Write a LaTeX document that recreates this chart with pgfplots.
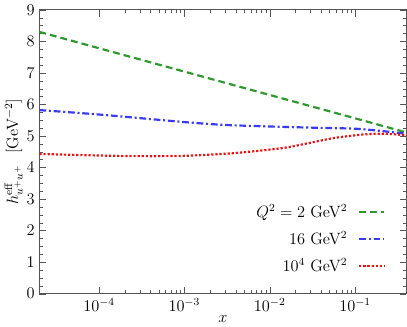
\documentclass[border=0pt]{standalone}
\usepackage{pgfplots}
\pgfplotsset{compat=1.18}
\definecolor{qgreen}{HTML}{2E9A2E}
\definecolor{qblue}{HTML}{3A3AF5}
\definecolor{qred}{HTML}{F01010}
\definecolor{frame}{HTML}{555555}
\begin{document}
\begin{tikzpicture}
\begin{semilogxaxis}[
  scale only axis,
  width=269pt,
  height=208pt,
  xmin=2e-5, xmax=0.4,
  ymin=0, ymax=9,
  ytick={0,1,...,9},
  minor y tick num=3,
  xtick={1e-4,1e-3,1e-2,1e-1},
  tick align=inside,
  axis line style={frame, line width=0.8pt},
  tick style={frame},
  major tick length=5pt,
  minor tick length=2.5pt,
  tick label style={font=\large},
  label style={font=\large},
  xlabel={$x$},
  ylabel={$h^{\rm eff}_{u^+u^+}$ \ [GeV$^{-2}$]},
  xlabel style={yshift=4pt},
  ylabel style={yshift=-4pt},
  legend plot pos=right,
  legend cell align=right,
  legend style={draw=none, fill=none, font=\large, at={(0.955,0.05)}, anchor=south east,
    row sep=5pt},
  legend image code/.code={\path (0cm,0cm); \draw[#1] plot coordinates {(0.21cm,0cm) (0.86cm,0cm)};},
]
\addplot[qgreen, line width=1.6pt, dash pattern=on 5pt off 3pt] coordinates {
  (2e-5,8.30) (1e-3,7.04) (1e-1,5.56) (0.4,5.11)
};
\addlegendentry{$Q^2=2$ GeV$^2$}
\addplot[qblue, line width=1.6pt, dash pattern=on 5pt off 2pt on 1.5pt off 2pt, smooth] coordinates {
  (2e-5,5.82) (1e-4,5.68) (1e-3,5.44) (3e-3,5.35) (1e-2,5.30) (3.5e-2,5.26)
  (0.1,5.23) (0.2,5.16) (0.4,5.07)
};
\addlegendentry{16 GeV$^2$}
\addplot[qred, line width=1.6pt, dash pattern=on 1.6pt off 1.4pt, smooth] coordinates {
  (2e-5,4.43) (1e-4,4.38) (3.2e-4,4.36) (1e-3,4.37) (3.16e-3,4.44) (5.75e-3,4.50)
  (1.45e-2,4.62) (2.7e-2,4.76) (4.07e-2,4.86) (6.17e-2,4.95) (0.129,5.05)
  (0.224,5.07) (0.4,5.02)
};
\addlegendentry{$10^4$ GeV$^2$}
\end{semilogxaxis}
\end{tikzpicture}
\end{document}
